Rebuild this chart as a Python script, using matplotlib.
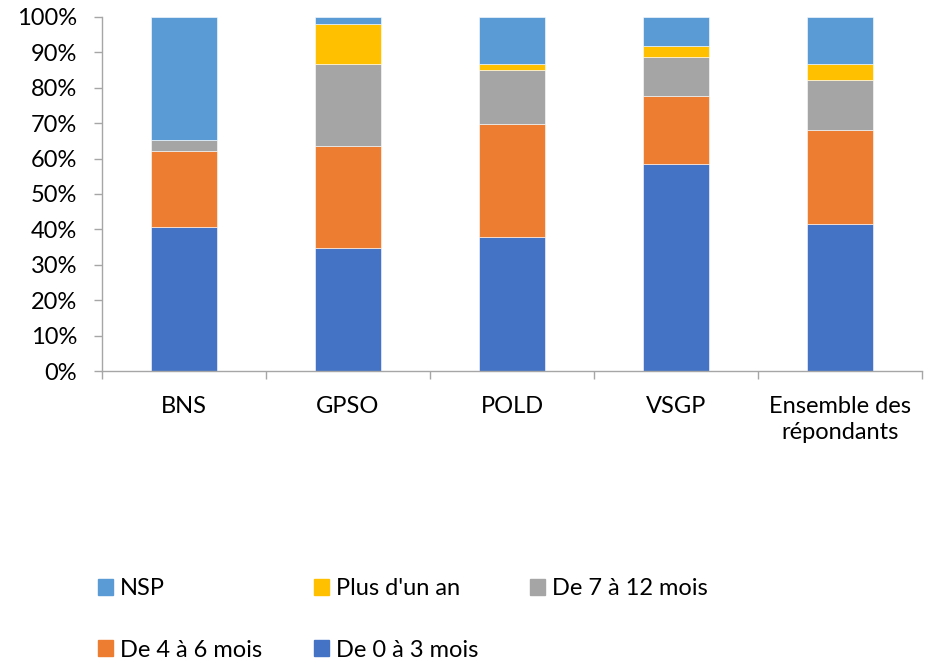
import matplotlib
matplotlib.use("Agg")
import matplotlib.pyplot as plt
from matplotlib.ticker import FixedLocator, PercentFormatter
from matplotlib.patches import Patch

plt.rcParams['font.family'] = ['Lato', 'DejaVu Sans']

categories = ["BNS", "GPSO", "POLD", "VSGP", "Ensemble des\nrépondants"]
de_0_3 = [40.6, 34.7, 37.9, 58.5, 41.6]
de_4_6 = [21.6, 28.9, 32.0, 19.3, 26.5]
de_7_12 = [3.0, 23.0, 15.0, 11.0, 14.0]
plus_un_an = [0.0, 11.5, 1.9, 2.9, 4.5]
nsp = [34.8, 1.9, 13.2, 8.3, 13.4]

series = [
    ("De 0 à 3 mois", de_0_3, "#4472C4"),
    ("De 4 à 6 mois", de_4_6, "#ED7D31"),
    ("De 7 à 12 mois", de_7_12, "#A5A5A5"),
    ("Plus d'un an", plus_un_an, "#FFC000"),
    ("NSP", nsp, "#5B9BD5"),
]

FS = 17
LFS = 17

fig = plt.figure(figsize=(9.33, 6.63), dpi=100)
ax = fig.add_axes([0.1093, 0.4404, 0.8790, 0.5340])

x = list(range(len(categories)))
bottom = [0.0] * len(categories)
handles = {}
for name, vals, col in series:
    fracs = [v / 100.0 for v in vals]
    ax.bar(x, fracs, width=0.4, bottom=bottom, color=col, label=name,
           edgecolor='white', linewidth=0.4)
    handles[name] = Patch(color=col)
    bottom = [bb + f for bb, f in zip(bottom, fracs)]

ax.set_xlim(-0.5, len(categories) - 0.5)
ax.set_ylim(0, 1)
ax.yaxis.set_major_locator(FixedLocator([i / 10 for i in range(11)]))
ax.yaxis.set_major_formatter(PercentFormatter(1.0, decimals=0))

ax.set_xticks(x)
ax.set_xticklabels(categories, linespacing=1.3)
ax.set_xticks([i - 0.5 for i in range(len(categories) + 1)], minor=True)
ax.tick_params(axis='x', which='major', length=0, pad=18, labelsize=FS)
ax.tick_params(axis='x', which='minor', length=6, width=1, color='#A6A6A6')
ax.tick_params(axis='y', which='major', length=6, width=1, color='#A6A6A6', pad=12, labelsize=FS)

for s in ['top', 'right']:
    ax.spines[s].set_visible(False)
for s in ['left', 'bottom']:
    ax.spines[s].set_color('#A6A6A6')
    ax.spines[s].set_linewidth(1)

order = ["NSP", "De 4 à 6 mois", "Plus d'un an", "De 0 à 3 mois", "De 7 à 12 mois"]
fig.legend([handles[n] for n in order], order, ncol=3, loc='upper left',
           bbox_to_anchor=(0.105, 0.128), frameon=False, fontsize=LFS,
           handlelength=0.63, handleheight=0.63, handletextpad=0.3,
           columnspacing=2.2, labelspacing=1.71, borderaxespad=0,
           borderpad=0)

fig.savefig("out.png", dpi=100)
